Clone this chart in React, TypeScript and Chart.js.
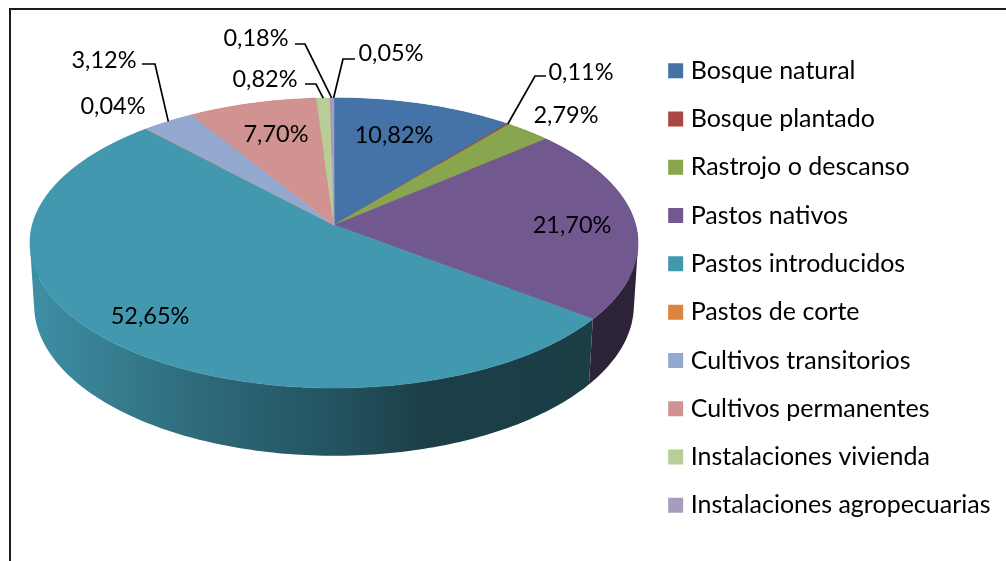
import React, { useEffect, useRef } from "react";
import { Chart, registerables } from "chart.js";

Chart.register(...registerables);

const categories = [
  "Bosque natural",
  "Bosque plantado",
  "Rastrojo o descanso",
  "Pastos nativos",
  "Pastos introducidos",
  "Pastos de corte",
  "Cultivos transitorios",
  "Cultivos permanentes",
  "Instalaciones vivienda",
  "Instalaciones agropecuarias",
];
const shares = [10.82, 0.11, 2.79, 21.7, 52.65, 0.04, 3.12, 7.7, 0.82, 0.18, 0.05];
const colors = [
  "#4572A7", "#AA4643", "#89A54E", "#71588F", "#4198AF", "#DB843D",
  "#93A9CF", "#D19392", "#B9CD96", "#A99BBD", "#92A9CF",
];

// Label placement: text centre, and optional leader start + elbow (leader ends on the slice rim)
const labelPlaces: [number, number, number[]?][] = [
  [394, 135],
  [581, 72, [546, 76, 535, 76]],
  [566, 115],
  [572, 225],
  [150, 316],
  [113, 106],
  [104, 60, [142, 64, 155, 64]],
  [276, 134],
  [265, 79, [305, 84, 316, 84]],
  [256, 38, [295, 44, 305, 44]],
  [391, 53, [355, 59, 343, 59]],
];

// Perspective projection of the flat pie
const CX = 334, CY = 225, R = 301.7, S = 142.8, K = 0.124, M = 0.0137, T = 62.5;
const project = (a: number, h: number): [number, number] => {
  const u = Math.cos(a), v = Math.sin(a), w = 1 - K * v + M * h;
  return [CX + (R * u) / w, CY + (S * v + T * h) / w];
};
const shade = (hex: string, f: number) => {
  const n = parseInt(hex.slice(1), 16);
  const c = [(n >> 16) & 255, (n >> 8) & 255, n & 255].map((x) => Math.round(x * f));
  return `rgb(${c[0]},${c[1]},${c[2]})`;
};
const wallStops: [number, number][] = [
  [30, 0.95], [100, 0.84], [200, 0.7], [340, 0.54], [430, 0.41], [640, 0.4],
];
const LABEL_FONT = "23.5px Lato";

const pie3d = {
  id: "pie3d",
  beforeDatasetDraw(chart: any) {
    const { ctx } = chart;
    const arcs = chart.getDatasetMeta(0).data;
    const angles = arcs.map((el: any) => el.getProps(["startAngle", "endAngle"], true));
    ctx.save();
    // walls: one path per slice, every quad wound the same way so the fold stays filled
    angles.forEach((p: any, i: number) => {
      const g = ctx.createLinearGradient(30, 0, 640, 0);
      wallStops.forEach(([x, f]) => g.addColorStop((x - 30) / 610, shade(colors[i], f)));
      ctx.fillStyle = g;
      const n = Math.max(2, Math.ceil((p.endAngle - p.startAngle) * 60));
      ctx.beginPath();
      for (let k = 0; k < n; k++) {
        const a0 = p.startAngle + ((p.endAngle - p.startAngle) * k) / n;
        const a1 = p.startAngle + ((p.endAngle - p.startAngle) * (k + 1)) / n;
        let q = [project(a0, 0), project(a1, 0), project(a1, 1), project(a0, 1)];
        let area = 0;
        q.forEach(([x, y], j) => {
          const [x2, y2] = q[(j + 1) % 4];
          area += x * y2 - x2 * y;
        });
        if (area < 0) q = q.reverse();
        q.forEach(([x, y], j) => (j ? ctx.lineTo(x, y) : ctx.moveTo(x, y)));
        ctx.closePath();
      }
      ctx.fill();
    });
    // top faces
    angles.forEach((p: any, i: number) => {
      const n = Math.max(2, Math.ceil((p.endAngle - p.startAngle) * 60));
      ctx.beginPath();
      ctx.moveTo(CX, CY);
      for (let k = 0; k <= n; k++) {
        const [x, y] = project(p.startAngle + ((p.endAngle - p.startAngle) * k) / n, 0);
        ctx.lineTo(x, y);
      }
      ctx.closePath();
      ctx.fillStyle = colors[i];
      ctx.strokeStyle = colors[i];
      ctx.lineWidth = 0.5;
      ctx.fill();
      ctx.stroke();
    });
    ctx.restore();
    return false;
  },
  afterDraw(chart: any) {
    const { ctx } = chart;
    const arcs = chart.getDatasetMeta(0).data;
    ctx.save();
    // frame
    ctx.strokeStyle = "#1c1c1c";
    ctx.lineWidth = 2;
    ctx.beginPath();
    ctx.moveTo(10, 561);
    ctx.lineTo(10, 9);
    ctx.lineTo(1006, 9);
    ctx.stroke();
    // labels and leaders
    ctx.font = LABEL_FONT;
    ctx.textAlign = "center";
    ctx.textBaseline = "middle";
    ctx.fillStyle = "#000";
    shares.forEach((v, i) => {
      const [tx, ty, leader] = labelPlaces[i];
      ctx.fillText(v.toFixed(2).replace(".", ",") + "%", tx, ty);
      if (leader) {
        const p = arcs[i].getProps(["startAngle", "endAngle"], true);
        const [ex, ey] = project((p.startAngle + p.endAngle) / 2, 0);
        ctx.strokeStyle = "#000";
        ctx.lineWidth = 1.7;
        ctx.beginPath();
        ctx.moveTo(leader[0], leader[1]);
        ctx.lineTo(leader[2], leader[3]);
        ctx.lineTo(ex, ey);
        ctx.stroke();
      }
    });
    ctx.restore();
  },
};

export default function App() {
  const ref = useRef<HTMLCanvasElement>(null);
  useEffect(() => {
    const chart = new Chart(ref.current as HTMLCanvasElement, {
      type: "pie",
      data: {
        labels: categories,
        datasets: [{ data: shares, backgroundColor: colors, borderWidth: 0 }],
      },
      options: {
        responsive: false,
        animation: false,
        layout: { padding: { top: 15, right: 5.5 } },
        plugins: {
          tooltip: { enabled: false },
          legend: {
            position: "right",
            labels: {
              color: "#000",
              font: { family: "Lato", size: 25 },
              boxWidth: 5,
              boxHeight: 5,
              padding: 23.3,
              generateLabels(c: any) {
                return Chart.overrides.pie.plugins.legend.labels
                  .generateLabels(c)
                  .map((l: any) => ({ ...l, lineWidth: 10, lineJoin: "miter", strokeStyle: l.fillStyle }));
              },
            },
          },
        },
      },
      plugins: [pie3d],
    } as any);
    return () => chart.destroy();
  }, []);
  return (
    <canvas
      ref={ref}
      width={1006}
      height={561}
      style={{ position: "absolute", left: 0, top: 0, display: "block", background: "#fff" }}
    />
  );
}
